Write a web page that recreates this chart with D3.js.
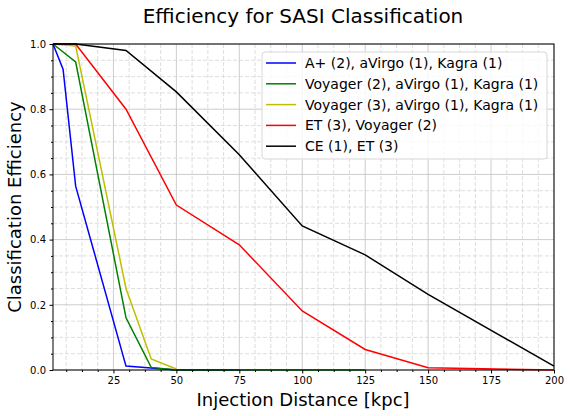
<!DOCTYPE html>
<html>
<head>
<meta charset="utf-8">
<script src="https://cdn.jsdelivr.net/npm/d3@7"></script>
<style>
  body { margin: 0; background: #fff; }
  svg { font-family: "DejaVu Sans", sans-serif; }
</style>
</head>
<body>
<svg id="chart" width="570" height="416"></svg>
<script>
// distances in kpc, efficiencies
var blueX = [1, 5, 10, 30, 40, 50, 75];
var blueY = [1.0, 0.923, 0.564, 0.012, 0.006, 0.0, 0.0];
var greenX = [1, 10, 30, 40, 50, 75, 100, 125];
var greenY = [1.0, 0.945, 0.16, 0.008, 0.0, 0.0, 0.0, 0.0];
var yellowX = [1, 10, 30, 40, 50];
var yellowY = [1.0, 0.994, 0.25, 0.034, 0.003];
var redX = [1, 5, 10, 30, 50, 75, 100, 125, 150, 200];
var redY = [1.0, 1.0, 1.0, 0.80, 0.506, 0.384, 0.181, 0.063, 0.007, 0.0];
var blackX = [1, 5, 10, 30, 50, 75, 100, 125, 150, 200];
var blackY = [1.0, 1.0, 1.0, 0.98, 0.853, 0.66, 0.442, 0.353, 0.232, 0.012];

var labels = [
    "A+ (2), aVirgo (1), Kagra (1)",
    "Voyager (2), aVirgo (1), Kagra (1)",
    "Voyager (3), aVirgo (1), Kagra (1)",
    "ET (3), Voyager (2)",
    "CE (1), ET (3)"
];
var colors = ["#0000ff", "#008000", "#bfbf00", "#ff0000", "#000000"];
var xTicks = [25, 50, 75, 100, 125, 150, 175, 200];
var yTicks = [0.0, 0.2, 0.4, 0.6, 0.8, 1.0];

var series = [
    {x: blueX, y: blueY},
    {x: greenX, y: greenY},
    {x: yellowX, y: yellowY},
    {x: redX, y: redY},
    {x: blackX, y: blackY}
];

var margin = {top: 44, right: 16, bottom: 46, left: 53};
var width = 570 - margin.left - margin.right;
var height = 416 - margin.top - margin.bottom;

var svg = d3.select('#chart');
var chart = svg.append('g')
    .attr('transform', 'translate(' + margin.left + ',' + margin.top + ')');

var x = d3.scaleLinear().domain([1, 200]).range([0, width]);
var y = d3.scaleLinear().domain([0, 1]).range([height, 0]);

// minor grid (dashed)
var xMinor = d3.range(0, 201, 6.25).filter(d => d >= 1 && d % 25 !== 0);
var yMinor = d3.range(0, 1.0001, 0.05).filter(d => Math.abs(d * 5 - Math.round(d * 5)) > 1e-6);

chart.append('g')
    .selectAll('line')
    .data(xMinor)
    .enter()
    .append('line')
        .attr('x1', d => x(d)).attr('x2', d => x(d))
        .attr('y1', 0).attr('y2', height)
        .attr('stroke', '#d6d6d6')
        .attr('stroke-dasharray', '4,2')
        .attr('stroke-width', 0.8);

chart.append('g')
    .selectAll('line')
    .data(yMinor)
    .enter()
    .append('line')
        .attr('x1', 0).attr('x2', width)
        .attr('y1', d => y(d)).attr('y2', d => y(d))
        .attr('stroke', '#d6d6d6')
        .attr('stroke-dasharray', '4,2')
        .attr('stroke-width', 0.8);

// major grid
chart.append('g')
    .selectAll('line')
    .data(xTicks)
    .enter()
    .append('line')
        .attr('x1', d => x(d)).attr('x2', d => x(d))
        .attr('y1', 0).attr('y2', height)
        .attr('stroke', '#c0c0c0')
        .attr('stroke-width', 0.8);

chart.append('g')
    .selectAll('line')
    .data(yTicks)
    .enter()
    .append('line')
        .attr('x1', 0).attr('x2', width)
        .attr('y1', d => y(d)).attr('y2', d => y(d))
        .attr('stroke', '#c0c0c0')
        .attr('stroke-width', 0.8);

// lines
var line = d3.line()
    .x(d => x(d[0]))
    .y(d => y(d[1]));

chart.append('g')
    .selectAll('path')
    .data(series)
    .enter()
    .append('path')
        .attr('d', s => line(s.x.map((v, i) => [v, s.y[i]])))
        .attr('fill', 'none')
        .attr('stroke', (s, i) => colors[i])
        .attr('stroke-width', 1.5);

// axes
chart.append('g')
    .attr('transform', 'translate(0,' + height + ')')
    .call(d3.axisBottom(x).tickValues(xTicks).tickSize(3.5).tickPadding(3.5).tickFormat(d3.format('d')));
chart.append('g')
    .attr('transform', 'translate(0,' + height + ')')
    .call(d3.axisBottom(x).tickValues(xMinor).tickSize(2).tickFormat(''));
chart.append('g')
    .call(d3.axisLeft(y).tickValues(yTicks).tickSize(3.5).tickPadding(3.5).tickFormat(d3.format('.1f')));
chart.append('g')
    .call(d3.axisLeft(y).tickValues(yMinor).tickSize(2).tickFormat(''));

chart.selectAll('.domain').remove();
chart.selectAll('.tick text').attr('font-size', 10).attr('fill', '#000').attr('font-family', 'DejaVu Sans');

// frame
chart.append('rect')
    .attr('width', width).attr('height', height)
    .attr('fill', 'none').attr('stroke', '#000').attr('stroke-width', 1);

// legend
var legend = chart.append('g').attr('transform', 'translate(209,8)');
legend.append('rect')
    .attr('width', 285).attr('height', 107)
    .attr('rx', 3)
    .attr('fill', '#fff').attr('fill-opacity', 0.8)
    .attr('stroke', '#d8d8d8');
var items = legend.selectAll('g.item')
    .data(labels)
    .enter()
    .append('g')
        .attr('transform', (d, i) => 'translate(0,' + (11 + i * 20.8) + ')');
items.append('line')
    .attr('x1', 4).attr('x2', 34)
    .attr('stroke', (d, i) => colors[i])
    .attr('stroke-width', 1.5);
items.append('text')
    .attr('x', 43).attr('dy', '0.35em')
    .attr('font-size', 14)
    .text(d => d);

// titles
svg.append('text')
    .attr('x', 303).attr('y', 23)
    .attr('text-anchor', 'middle')
    .attr('font-size', 20)
    .text('Efficiency for SASI Classification');
svg.append('text')
    .attr('x', 303).attr('y', 406)
    .attr('text-anchor', 'middle')
    .attr('font-size', 18)
    .text('Injection Distance [kpc]');
svg.append('text')
    .attr('transform', 'translate(21,' + (margin.top + height / 2) + ') rotate(-90)')
    .attr('text-anchor', 'middle')
    .attr('font-size', 18)
    .text('Classification Efficiency');
</script>
</body>
</html>
